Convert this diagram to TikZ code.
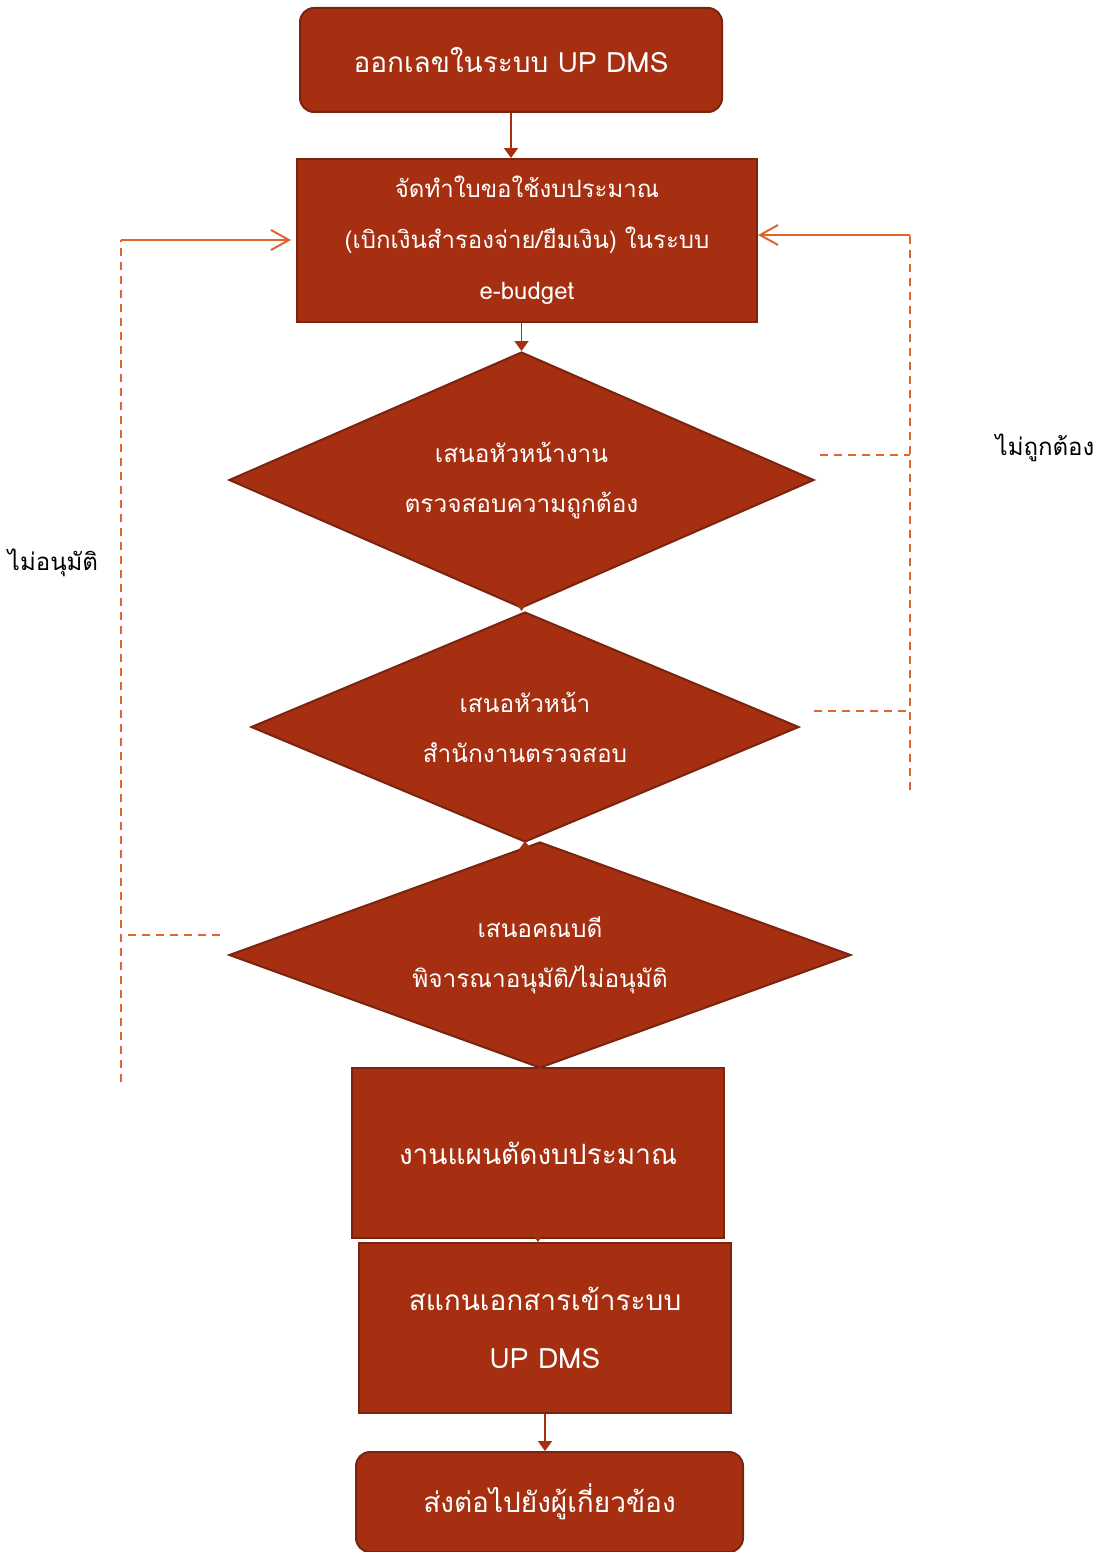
\documentclass[tikz,border=0pt]{standalone}
\usepackage{fontspec}
\setmainfont[Script=Thai]{Loma}
\usetikzlibrary{arrows.meta,shapes.geometric,positioning}
\definecolor{BoxFill}{HTML}{A52F10}
\definecolor{BoxLine}{HTML}{7A2410}
\definecolor{BackLine}{HTML}{E0652B}

\begin{document}
\begin{tikzpicture}[x=0.5pt,y=-0.5pt,
stepbox/.style={
	rectangle,
	fill=BoxFill,
	draw=BoxLine,
	line width=1pt,
	align=center,
	inner sep=0mm,
	text=white},
endbox/.style={
	stepbox,
	rounded corners=7pt},
decide/.style={
	diamond,
	aspect=2.5,
	fill=BoxFill,
	draw=BoxLine,
	line width=1pt,
	align=center,
	inner sep=0mm,
	text=white,
	font=\fontsize{12.2}{25}\selectfont},
flow/.style={
	-{Triangle[length=5pt,width=7pt]},
	draw,
	line width=0.8pt,
	color=BoxFill},
back/.style={
	draw,
	line width=1pt,
	color=BackLine},
backdash/.style={
	back,
	dash pattern=on 4pt off 3pt},
backarrow/.style={
	back,
	-{Straight Barb[length=9pt,width=10pt]}},
note/.style={
	font=\fontsize{12}{14}\selectfont,
	text=black}]

\useasboundingbox (0,0) rectangle (1108,1552);

%Steps
\node[endbox, minimum width=211pt, minimum height=52pt, font=\fontsize{14}{16}\selectfont]
	(Issue) at (511,60) {ออกเลขในระบบ UP DMS};
\node[stepbox, minimum width=230pt, minimum height=81.5pt, font=\fontsize{12}{25.5}\selectfont]
	(Request) at (527,240.5) {จัดทำใบขอใช้งบประมาณ\\(เบิกเงินสำรองจ่าย/ยืมเงิน) ในระบบ\\e-budget};
\node[decide, minimum width=292.5pt, minimum height=128pt]
	(Check) at (521.5,480) {เสนอหัวหน้างาน\\ตรวจสอบความถูกต้อง};
\node[decide, minimum width=274pt, minimum height=115pt]
	(Review) at (525,727) {เสนอหัวหน้า\\สำนักงานตรวจสอบ};
\node[decide, minimum width=311pt, minimum height=113pt]
	(Approve) at (540,955) {เสนอคณบดี\\พิจารณาอนุมัติ/ไม่อนุมัติ};
\node[stepbox, minimum width=186pt, minimum height=85pt, font=\fontsize{14}{16}\selectfont]
	(Cut) at (538,1153) {งานแผนตัดงบประมาณ};
\node[stepbox, minimum width=186pt, minimum height=85pt, font=\fontsize{14}{29}\selectfont]
	(Scan) at (545,1328) {สแกนเอกสารเข้าระบบ\\UP DMS};
\node[endbox, minimum width=193.5pt, minimum height=50pt, font=\fontsize{14}{16}\selectfont]
	(Send) at (549.5,1502) {ส่งต่อไปยังผู้เกี่ยวข้อง};

%Flow
\path[flow] (Issue.south) to (Issue.south |- Request.north);
\path[flow] (Check.north |- Request.south) to (Check.north);
\foreach \a/\b in {Check/Review, Review/Approve, Approve/Cut, Cut/Scan} {
	\path[flow] (\a.south) to (\a.south |- \b.north);
}
\path[flow] (Scan.south) to (Scan.south |- Send.north);

%Not correct
\coordinate (rTop) at (910,235);
\coordinate (rBot) at (910,790);
\coordinate (rCheck) at (820,455);
\coordinate (rReview) at (814,711);
\path[backdash] (rCheck) to (rCheck -| rTop);
\path[backdash] (rReview) to (rReview -| rTop);
\path[backdash] (rBot) to (rTop);
\path[backarrow] (rTop) to (Request.east |- rTop);
\node[note] (NotRight) at (1045,448) {ไม่ถูกต้อง};

%Not approved
\coordinate (lTop) at (121,240);
\coordinate (lBot) at (121,1082);
\coordinate (lApprove) at (220,935);
\path[backdash] (lApprove) to (lApprove -| lTop);
\path[backdash] (lBot) to (lTop);
\path[backarrow] (lTop) to ([xshift=-2.5pt]Request.west |- lTop);
\node[note] (NotOk) at (53,563) {ไม่อนุมัติ};

\end{tikzpicture}
\end{document}
